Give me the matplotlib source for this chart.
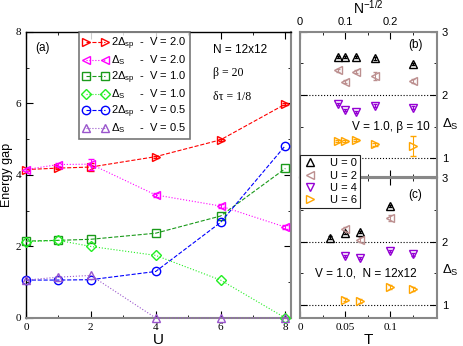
import matplotlib
matplotlib.use("Agg")
import matplotlib.pyplot as plt
from matplotlib.lines import Line2D

plt.rcParams['font.family'] = ['Liberation Sans', 'DejaVu Sans']
plt.rcParams['mathtext.fontset'] = 'custom'
plt.rcParams['mathtext.rm'] = 'Liberation Sans'
plt.rcParams['mathtext.it'] = 'Liberation Sans:italic'

# ---------------- data: panel (a) ----------------
U_a = [0, 1, 2, 4, 6, 8]
gap_sp_V20 = [4.15, 4.19, 4.22, 4.51, 4.98, 5.98]
gap_s_V20 = [4.15, 4.29, 4.30, 3.44, 3.13, 2.54]
gap_sp_V10 = [2.15, 2.17, 2.20, 2.37, 2.85, 4.18]
gap_s_V10 = [2.13, 2.17, 2.00, 1.75, 1.06, 0.0]
gap_sp_V05 = [1.06, 1.06, 1.07, 1.30, 2.67, 4.82]
gap_s_V05 = [1.06, 1.14, 1.19, 0.0, 0.0, 0.0]
err_s_V20 = [0.05, 0.05, 0.15, 0.05, 0.05, 0.05]
err_sp_V20 = [0.03, 0.03, 0.12, 0.03, 0.03, 0.03]

# ---------------- data: panel (b) ----------------
invsqrtN = [0.0833, 0.1, 0.125, 0.1667, 0.25]
b_U0 = [2.60, 2.60, 2.60, 2.58, 2.49]
b_U2 = [2.39, 2.21, 2.37, 2.30, 2.22]
b_U2_err = [0.02, 0.02, 0.02, 0.06, 0.03]
b_U4 = [1.86, 1.76, 1.73, 1.83, 1.80]
b_U6 = [1.27, 1.27, 1.29, 1.22, 1.19]
b_U6_err = [0.02, 0.02, 0.02, 0.02, 0.16]

# ---------------- data: panel (c) ----------------
T_U0 = [0.0333, 0.05, 0.0667, 0.1]
c_U0 = [2.06, 2.14, 2.15, 2.56]
T_U2 = [0.05, 0.0667, 0.1]
c_U2 = [2.19, 2.03, 2.37]
T_U4 = [0.05, 0.0667, 0.1, 0.125]
c_U4 = [1.77, 1.74, 1.85, 1.80]
T_U6 = [0.05, 0.0667, 0.1, 0.125]
c_U6 = [1.09, 1.07, 1.29, 1.26]

U_labels = ["U = 0", "U = 2", "U = 4", "U = 6"]

RED = '#ff0000'
MAG = '#ff00ff'
DGREEN = '#1a9a1a'
LGREEN = '#22ee22'
BLUE = '#0000ff'
VIOLET = '#9955cc'
BLACK = '#000000'
BROWN = '#bc8f8f'
PURPLE = '#9400d3'
ORANGE = '#ffa500'
GREY = '#888888'

fig = plt.figure(figsize=(4.63, 3.46), dpi=100)
ax_a = fig.add_axes([0.056, 0.081, 0.573, 0.827])
ax_b = fig.add_axes([0.648, 0.488, 0.296, 0.420])
ax_c = fig.add_axes([0.648, 0.081, 0.296, 0.405])

serif = 'Liberation Serif'
ms = 6
msb = 5.5

def style_axes(ax):
    ax.tick_params(which='both', direction='in', top=True, right=True, labelsize=8)
    ax.tick_params(which='major', length=5)
    ax.tick_params(which='minor', length=2.5)
    for lab in ax.get_xticklabels() + ax.get_yticklabels():
        lab.set_fontfamily(serif)

# ---------- panel (a) ----------
series = [
    (gap_sp_V20, RED, '>', '--', r"2Δ$_{\rm sp}$  -  V = 2.0", err_sp_V20),
    (gap_s_V20, MAG, '<', ':', r"Δ$_{\rm S}$     -  V = 2.0", err_s_V20),
    (gap_sp_V10, DGREEN, 's', '--', r"2Δ$_{\rm sp}$  -  V = 1.0", None),
    (gap_s_V10, LGREEN, 'D', ':', r"Δ$_{\rm S}$     -  V = 1.0", None),
    (gap_sp_V05, BLUE, 'o', '--', r"2Δ$_{\rm sp}$  -  V = 0.5", None),
    (gap_s_V05, VIOLET, '^', ':', r"Δ$_{\rm S}$     -  V = 0.5", None),
]
handles = []
for y, c, m, ls, lab, err in series:
    msz = ms - 1.2 if m == 'D' else ms
    ax_a.plot(U_a, y, color=c, ls=ls, lw=0.8, marker=m, ms=msz, mfc='none',
              mec=c, mew=1.0, clip_on=False, zorder=3)
    if err is not None:
        ax_a.errorbar(U_a, y, yerr=err, fmt='none', ecolor=c, elinewidth=0.8,
                      capsize=2, zorder=3)
    handles.append(Line2D([], [], color=c, ls=ls, lw=0.8, marker=m, ms=msz,
                          mfc='none', mec=c, mew=1.0, label=lab))

ax_a.set_xlim(0, 8.18)
ax_a.set_ylim(0, 8)
ax_a.set_xticks([0, 2, 4, 6, 8])
ax_a.set_xticks([1, 3, 5, 7], minor=True)
ax_a.set_yticks([0, 2, 4, 6, 8])
ax_a.set_yticks([1, 3, 5, 7], minor=True)
style_axes(ax_a)
ax_a.spines['left'].set_linewidth(1.0)
ax_a.spines['top'].set_linewidth(1.0)
ax_a.spines['bottom'].set_color(GREY)
ax_a.spines['right'].set_color(GREY)
ax_a.spines['bottom'].set_linewidth(1.5)
ax_a.spines['right'].set_linewidth(1.5)
ax_a.set_xlabel("U", fontsize=11, labelpad=1)
ax_a.set_ylabel("Energy gap", fontsize=9, labelpad=2)
leg = ax_a.legend(handles=handles, loc='upper left', bbox_to_anchor=(0.2, 1.0),
                  numpoints=2, fontsize=8, frameon=True, fancybox=False,
                  edgecolor='#555555', handlelength=2.3, handletextpad=0.3,
                  labelspacing=0.17, borderpad=0.3, borderaxespad=0.0)
leg.get_frame().set_linewidth(1.2)
ax_a.text(0.064, 0.944, "(a)", transform=ax_a.transAxes, fontsize=8.5,
          ha='center', va='center')
ax_a.text(0.706, 0.937, "N = 12x12", transform=ax_a.transAxes, fontsize=8.5, va='center')
ax_a.text(0.706, 0.857, "β = 20", transform=ax_a.transAxes, fontsize=8.5,
          fontfamily=serif, va='center')
ax_a.text(0.706, 0.773, "δτ = 1/8", transform=ax_a.transAxes, fontsize=8.5,
          fontfamily=serif, va='center')

# ---------- panel (b) ----------
ax_b.axhline(1, color='k', ls=':', lw=0.8)
ax_b.axhline(2, color='k', ls=':', lw=0.8)
ax_b.errorbar(invsqrtN, b_U0, yerr=0.02, fmt='^', color=BLACK, mfc='none', ms=msb,
              mew=1.0, elinewidth=0.8, capsize=1.5)
ax_b.errorbar(invsqrtN, b_U2, yerr=b_U2_err, fmt='<', color=BROWN, mfc='none', ms=msb,
              mew=1.0, elinewidth=0.8, capsize=1.5)
ax_b.errorbar(invsqrtN, b_U4, yerr=0.02, fmt='v', color=PURPLE, mfc='none', ms=msb,
              mew=1.0, elinewidth=0.8, capsize=1.5)
ax_b.errorbar(invsqrtN, b_U6, yerr=b_U6_err, fmt='>', color=ORANGE, mfc='none', ms=msb,
              mew=1.0, elinewidth=0.8, capsize=2)
ax_b.set_xlim(0, 0.304)
ax_b.set_ylim(0.7, 3)
ax_b.set_xticks([0, 0.1, 0.2])
ax_b.set_xticklabels(["0", "0.1", "0.2"])
ax_b.set_xticks([0.05, 0.15, 0.25], minor=True)
ax_b.set_yticks([1, 2, 3])
ax_b.set_yticks([1.5, 2.5], minor=True)
style_axes(ax_b)
ax_b.tick_params(labelbottom=False, labeltop=True, labelleft=False, labelright=True)
ax_b.xaxis.set_label_position('top')
ax_b.set_xlabel(r"N$^{\mathregular{-1/2}}$", fontsize=10, labelpad=2)
ax_b.yaxis.set_label_position('right')
ax_b.set_ylabel(r"Δ$_{\rm S}$", fontsize=9.5, rotation=0, va='center', ha='center')
ax_b.yaxis.set_label_coords(1.095, 0.36)
ax_b.text(0.84, 0.91, "(b)", transform=ax_b.transAxes, fontsize=8.5,
          ha='center', va='center')
ax_b.text(0.38, 0.345, "V = 1.0, β = 10", transform=ax_b.transAxes, fontsize=8.5,
          va='center')

# ---------- panel (c) ----------
ax_c.axhline(1, color='k', ls=':', lw=0.8)
ax_c.axhline(2, color='k', ls=':', lw=0.8)
ax_c.errorbar(T_U0, c_U0, yerr=0.02, fmt='^', color=BLACK, mfc='none', ms=msb,
              mew=1.0, elinewidth=0.8, capsize=1.5)
ax_c.errorbar(T_U2, c_U2, yerr=0.04, fmt='<', color=BROWN, mfc='none', ms=msb,
              mew=1.0, elinewidth=0.8, capsize=1.5)
ax_c.errorbar(T_U4, c_U4, yerr=0.02, fmt='v', color=PURPLE, mfc='none', ms=msb,
              mew=1.0, elinewidth=0.8, capsize=1.5)
ax_c.errorbar(T_U6, c_U6, yerr=0.03, fmt='>', color=ORANGE, mfc='none', ms=msb,
              mew=1.0, elinewidth=0.8, capsize=1.5)
ax_c.set_xlim(0, 0.152)
ax_c.set_ylim(0.8, 3)
ax_c.set_xticks([0, 0.05, 0.1])
ax_c.set_xticklabels(["0", "0.05", "0.1"])
ax_c.set_xticks([0.025, 0.075, 0.125], minor=True)
ax_c.set_yticks([1, 2, 3])
ax_c.set_yticks([1.5, 2.5], minor=True)
style_axes(ax_c)
ax_c.tick_params(labelleft=False, labelright=True)
ax_c.set_xlabel("T", fontsize=11, labelpad=1)
ax_c.yaxis.set_label_position('right')
ax_c.set_ylabel(r"Δ$_{\rm S}$", fontsize=9.5, rotation=0, va='center', ha='center')
ax_c.yaxis.set_label_coords(1.095, 0.34)
ax_c.text(0.84, 0.88, "(c)", transform=ax_c.transAxes, fontsize=8.5,
          ha='center', va='center')
ax_c.text(0.11, 0.317, "V = 1.0,  N = 12x12", transform=ax_c.transAxes, fontsize=8.5,
          va='center')

for ax in (ax_b, ax_c):
    for s in ax.spines.values():
        s.set_color(GREY)
        s.set_linewidth(1.5)

uh = [Line2D([], [], ls='none', marker=m, color=c, mfc='none', ms=msb, mew=1.0, label=l)
      for m, c, l in zip(['^', '<', 'v', '>'], [BLACK, BROWN, PURPLE, ORANGE], U_labels)]
leg2 = ax_c.legend(handles=uh, loc='upper left', bbox_to_anchor=(0.648, 0.552),
                   bbox_transform=fig.transFigure, fontsize=8, frameon=True,
                   fancybox=False, edgecolor='#222222', handlelength=1.2,
                   handletextpad=1.2, labelspacing=0.2, borderpad=0.3,
                   borderaxespad=0.0, framealpha=1)
leg2.get_frame().set_linewidth(0.8)

fig.savefig("out.png", dpi=100)
